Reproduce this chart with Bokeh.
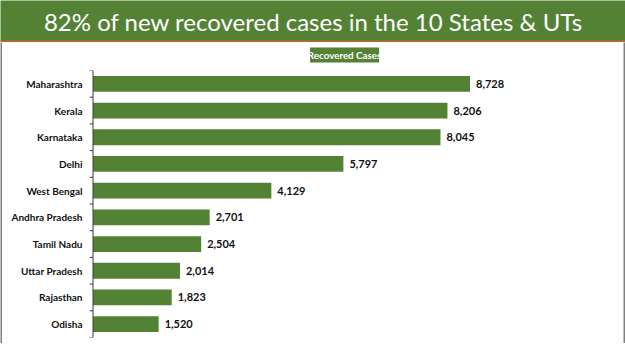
from bokeh.plotting import figure
from bokeh.layouts import column, row
from bokeh.models import (FactorRange, Range1d, Label, BoxAnnotation, Span,
                          ColumnDataSource, LabelSet)
from bokeh.embed import file_html
from bokeh.resources import INLINE
from bokeh.core.properties import value

states = ["Maharashtra", "Kerala", "Karnataka", "Delhi", "West Bengal",
          "Andhra Pradesh", "Tamil Nadu", "Uttar Pradesh", "Rajasthan", "Odisha"]
recovered = [8728, 8206, 8045, 5797, 4129, 2701, 2504, 2014, 1823, 1520]
value_labels = ["8,728", "8,206", "8,045", "5,797", "4,129", "2,701", "2,504", "2,014", "1,823", "1,520"]
title_text = "82% of new recovered cases in the 10 States & UTs"
series_name = "Recovered Cases"

GREEN = "#548235"
ORANGE = "#C0622B"
GREY = "#808080"
W = 625


def plain(width, height, bg, xr=(0, 1), yr=(0, 1)):
    f = figure(width=width, height=height, output_backend="svg", toolbar_location=None,
               x_axis_location=None, y_axis_location=None,
               x_range=Range1d(*xr), y_range=Range1d(*yr),
               min_border=0, background_fill_color=bg, border_fill_color=bg)
    f.outline_line_color = None
    f.grid.visible = False
    return f


# ---- banner ----
BH = 42
banner = plain(W, BH, GREEN, (0, W), (BH, 0))
banner.add_layout(BoxAnnotation(left=0, right=W, top=40, bottom=41.5,
                                fill_color=ORANGE, fill_alpha=1, line_color=None))
banner.add_layout(BoxAnnotation(left=0, right=W, top=41.5, bottom=BH,
                                fill_color="white", fill_alpha=1, line_color=None))
banner.add_layout(Label(x=313, y=20.5, text=title_text, text_align="center",
                        text_baseline="middle", text_font="Lato",
                        text_font_size="24px", text_color="white"))

# ---- legend strip ----
IW = 621
LH = 27
legend_strip = plain(IW, LH, "white", (0, IW), (LH, 0))
legend_strip.add_layout(BoxAnnotation(left=268, right=352, top=5, bottom=20,
                                      fill_color=GREEN, fill_alpha=1, line_color=None))
legend_strip.add_layout(Label(x=310, y=12.5, text=series_name, text_align="center",
                              text_baseline="middle", text_font="Lato",
                              text_font_style="bold", text_font_size="9.8px",
                              text_color="white"))

# ---- chart ----
CH = 274
FL, FR = 87, 598          # frame edges (local px)
FT, FB = 1, 268
px_per = (470 - 93) / 8728.0
xs = -(90.5 - FL) / px_per
xe = xs + (FR - FL) / px_per

p = figure(width=IW, height=CH, output_backend="svg", toolbar_location=None,
           y_range=FactorRange(factors=states[::-1]), x_range=Range1d(xs, xe),
           min_border_left=FL, min_border_top=FT, min_border_right=IW - FR,
           min_border_bottom=CH - FB, background_fill_color="white",
           border_fill_color="white")
p.outline_line_color = None
p.grid.visible = False
p.xaxis.visible = False
ya = p.yaxis[0]
ya.axis_line_color = None
ya.major_tick_line_color = None
ya.major_tick_out = 0
ya.major_tick_in = 0
ya.major_label_standoff = 7
ya.major_label_text_font = "Lato"
ya.major_label_text_font_style = "bold"
ya.major_label_text_font_size = "10px"
ya.major_label_text_color = "#111111"

src = ColumnDataSource(dict(state=states, val=recovered, lab=value_labels))
p.hbar(y="state", right="val", left=0, height=0.59, source=src,
       fill_color=GREEN, line_color=None)
p.add_layout(LabelSet(x="val", y="state", text="lab", source=src, x_offset=6,
                      text_baseline="middle", text_font=value("Lato"),
                      text_font_style="bold", text_font_size="11px",
                      text_color="#111111"))

p.add_layout(Span(location=0, dimension="height", line_color="#3a3a3a", line_width=1))
bounds = [(s, 0.5) for s in states] + [(states[-1], -0.5)]
p.segment(x0=[xs] * len(bounds), x1=[0] * len(bounds), y0=bounds, y1=bounds,
          line_color="#3a3a3a", line_width=1)

# ---- grey frame strips ----
MH = LH + CH
left_strip = plain(2, MH, GREY)
right_strip = plain(2, MH, GREY)
bottom_strip = plain(W - 1, 2, GREY)

layout = column(banner,
                row(left_strip, column(legend_strip, p, spacing=0), right_strip, spacing=0),
                bottom_strip, spacing=0)

open("out.html", "w").write(file_html(layout, INLINE))
